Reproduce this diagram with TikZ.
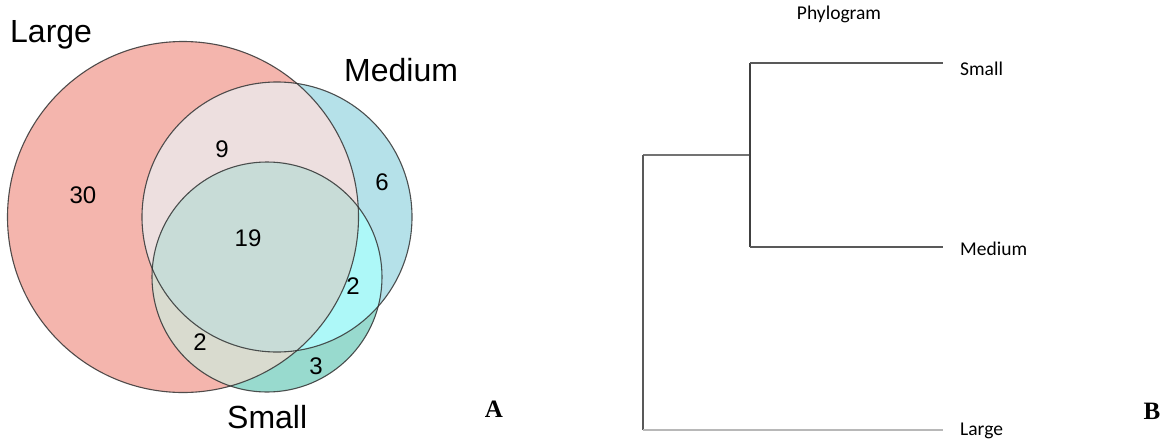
\documentclass[tikz,border=0pt]{standalone}
\usepackage{fontspec}
\setmainfont{Liberation Sans}
\newfontfamily\phylofont{Carlito}
\newfontfamily\panelfont{Liberation Serif}
% Venn region colours
\definecolor{colL}{HTML}{F4B5AD}
\definecolor{colM}{HTML}{B5E1E9}
\definecolor{colS}{HTML}{98DACE}
\definecolor{colLM}{HTML}{EDDFDF}
\definecolor{colLS}{HTML}{D9DBCF}
\definecolor{colMS}{HTML}{ADF8F8}
\definecolor{colLMS}{HTML}{C8DCD7}
\definecolor{rim}{HTML}{333333}
\begin{document}
\begin{tikzpicture}[x=1pt,y=-1pt,
  setlabel/.style={inner sep=0pt,font=\fontsize{32}{36}\selectfont},
  count/.style={inner sep=0pt,anchor=base,font=\fontsize{24}{28}\selectfont},
  phylolabel/.style={inner sep=0pt,anchor=base west,font=\phylofont\fontsize{19.5}{22}\selectfont},
  panel/.style={inner sep=0pt,anchor=base,font=\panelfont\bfseries\fontsize{25}{28}\selectfont},
  rimline/.style={draw=rim,line width=1.1pt,opacity=0.85},
  branch/.style={line width=1.1pt,draw=#1},
]
\useasboundingbox (0,0) rectangle (1169,442);

% ---- Venn diagram ----
\def\rL{175.5pt}
\def\rM{135pt}
\def\rS{115pt}
\coordinate (cL) at (183,217);
\coordinate (cM) at (277,217);
\coordinate (cS) at (267,277);

\fill[colL] (cL) circle[radius=\rL];
\fill[colM] (cM) circle[radius=\rM];
\fill[colS] (cS) circle[radius=\rS];
\begin{scope}
  \clip (cL) circle[radius=\rL];
  \fill[colLM] (cM) circle[radius=\rM];
  \fill[colLS] (cS) circle[radius=\rS];
\end{scope}
\begin{scope}
  \clip (cM) circle[radius=\rM];
  \fill[colMS] (cS) circle[radius=\rS];
\end{scope}
\begin{scope}
  \clip (cL) circle[radius=\rL];
  \clip (cM) circle[radius=\rM];
  \fill[colLMS] (cS) circle[radius=\rS];
\end{scope}
\draw[rimline] (cL) circle[radius=\rL];
\draw[rimline] (cM) circle[radius=\rM];
\draw[rimline] (cS) circle[radius=\rS];

\node[setlabel,anchor=base west] (labL) at (10,42) {Large};
\node[setlabel,anchor=base west] (labM) at (344,81) {Medium};
\node[setlabel,anchor=base west] (labS) at (227,428) {Small};

\node[count] (nL)   at (83,203)  {30};
\node[count] (nLM)  at (222,157) {9};
\node[count] (nM)   at (382,190) {6};
\node[count] (nLMS) at (248,246) {19};
\node[count] (nMS)  at (353,294) {2};
\node[count] (nLS)  at (200,350) {2};
\node[count] (nS)   at (316,374) {3};

\node[panel] (pA) at (494,417) {A};

% ---- Phylogram ----
\node[inner sep=0pt,anchor=base,font=\phylofont\fontsize{19.5}{22}\selectfont] (title) at (839,19) {Phylogram};

\coordinate (root)  at (643,155);
\coordinate (inner) at (750,155);
\coordinate (tS) at (943,63);
\coordinate (tM) at (943,247);
\coordinate (tL) at (943,430);

\draw[branch=gray!90!black] (root) -- (inner);
\draw[branch=black!75] (inner |- tS) -- (inner |- tM);
\draw[branch=black!65] (inner |- tS) -- (tS);
\draw[branch=black!65] (inner |- tM) -- (tM);
\draw[branch=black!65] (root) -- (root |- tL);
\draw[branch=black!28] (root |- tL) -- (tL);

\node[phylolabel] (lS) at (960,75)  {Small};
\node[phylolabel] (lM) at (960,255) {Medium};
\node[phylolabel] (lL) at (960,435) {Large};

\node[panel] (pB) at (1152,419) {B};
\end{tikzpicture}
\end{document}
